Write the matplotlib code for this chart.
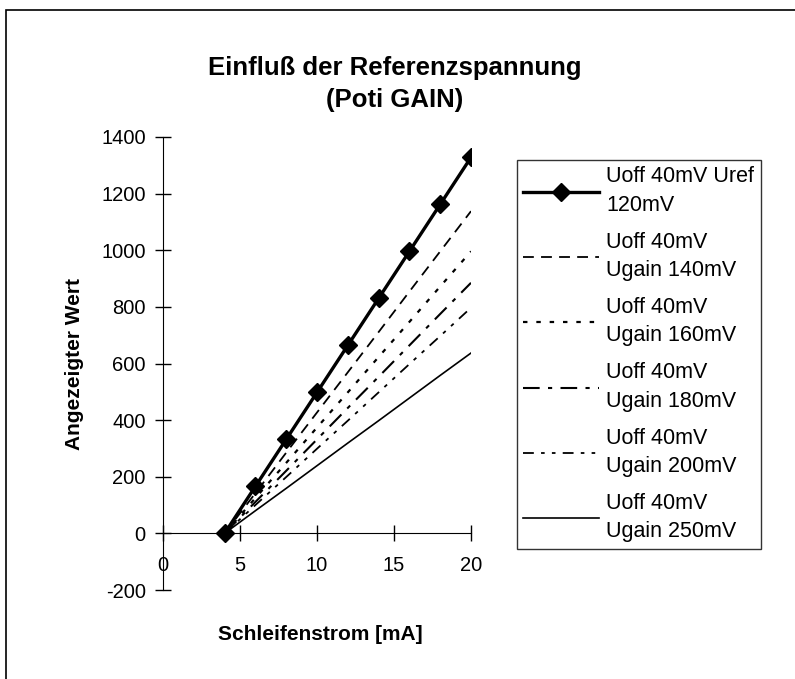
import matplotlib
matplotlib.use('Agg')
import matplotlib.pyplot as plt
from matplotlib.patches import Rectangle

plt.rcParams['font.family'] = ['Liberation Sans', 'DejaVu Sans']
plt.rcParams['axes.unicode_minus'] = False

# Schleifenstrom in mA
strom = [4, 6, 8, 10, 12, 14, 16, 18, 20]

# Angezeigter Wert je Einstellung
uref_120 = [0, 166, 332, 498, 664, 830, 996, 1162, 1328]
ugain_140 = [0, 142, 285, 427, 569, 711, 854, 996, 1138]
ugain_160 = [0, 125, 249, 374, 498, 623, 747, 872, 996]
ugain_180 = [0, 111, 221, 332, 443, 553, 664, 775, 885]
ugain_200 = [0, 100, 199, 299, 398, 498, 598, 697, 797]
ugain_250 = [0, 80, 159, 239, 319, 398, 478, 558, 637]

labels = ['Uoff 40mV Uref\n120mV',
          'Uoff 40mV\nUgain 140mV',
          'Uoff 40mV\nUgain 160mV',
          'Uoff 40mV\nUgain 180mV',
          'Uoff 40mV\nUgain 200mV',
          'Uoff 40mV\nUgain 250mV']

fig = plt.figure(figsize=(7.95, 6.79), dpi=100)
ax = fig.add_axes([163 / 795, 1 - 590 / 679, 308 / 795, 453 / 679])

ax.plot(strom, uref_120, color='black', lw=2.4, marker='D', markersize=9, label=labels[0])
ax.plot(strom, ugain_140, color='black', lw=1.3, dashes=(6, 4), label=labels[1])
ax.plot(strom, ugain_160, color='black', lw=1.6, dashes=(2, 4), label=labels[2])
ax.plot(strom, ugain_180, color='black', lw=1.5, dashes=(8, 4, 2, 4), label=labels[3])
ax.plot(strom, ugain_200, color='black', lw=1.3, dashes=(6, 4, 2, 4, 2, 4), label=labels[4])
ax.plot(strom, ugain_250, color='black', lw=1.2, label=labels[5])

ax.set_xlim(0, 20)
ax.set_ylim(-200, 1400)
ax.set_xticks([0, 5, 10, 15, 20])
ax.set_yticks(range(-200, 1401, 200))

# Achsen kreuzen sich im Nullpunkt
ax.spines['bottom'].set_position(('data', 0))
ax.spines['left'].set_position(('data', 0))
ax.spines['top'].set_visible(False)
ax.spines['right'].set_visible(False)
ax.tick_params(direction='inout', length=11, width=1, labelsize=14.5)
ax.tick_params(axis='x', pad=11)
ax.tick_params(axis='y', pad=7)

ax.set_xlabel('Schleifenstrom [mA]', fontsize=15, fontweight='bold')
ax.set_ylabel('Angezeigter Wert', fontsize=15, fontweight='bold')
ax.xaxis.set_label_coords(0.51, -0.077)
ax.yaxis.set_label_coords(-0.258, 0.5)

fig.text(0.497, 1 - 84 / 679, 'Einfluß der Referenzspannung\n(Poti GAIN)',
         ha='center', va='center', fontsize=18.5, fontweight='bold', linespacing=1.4)

leg = fig.legend(loc='upper left', bbox_to_anchor=(517 / 795, 1 - 160 / 679),
                 fontsize=15.5, frameon=True, fancybox=False, edgecolor='black',
                 handlelength=3.5, handletextpad=0.35, labelspacing=0.75,
                 borderpad=0.3, borderaxespad=0)
leg.get_frame().set_linewidth(1.0)
for t in leg.get_texts():
    t.set_linespacing(1.45)

# Rahmen um das Diagramm
fig.add_artist(Rectangle((6 / 795, -0.1), 1.2, 1 - 10 / 679 + 0.1,
                         transform=fig.transFigure, fill=False, lw=1.2, color='black'))

fig.savefig('out.png', dpi=100)
